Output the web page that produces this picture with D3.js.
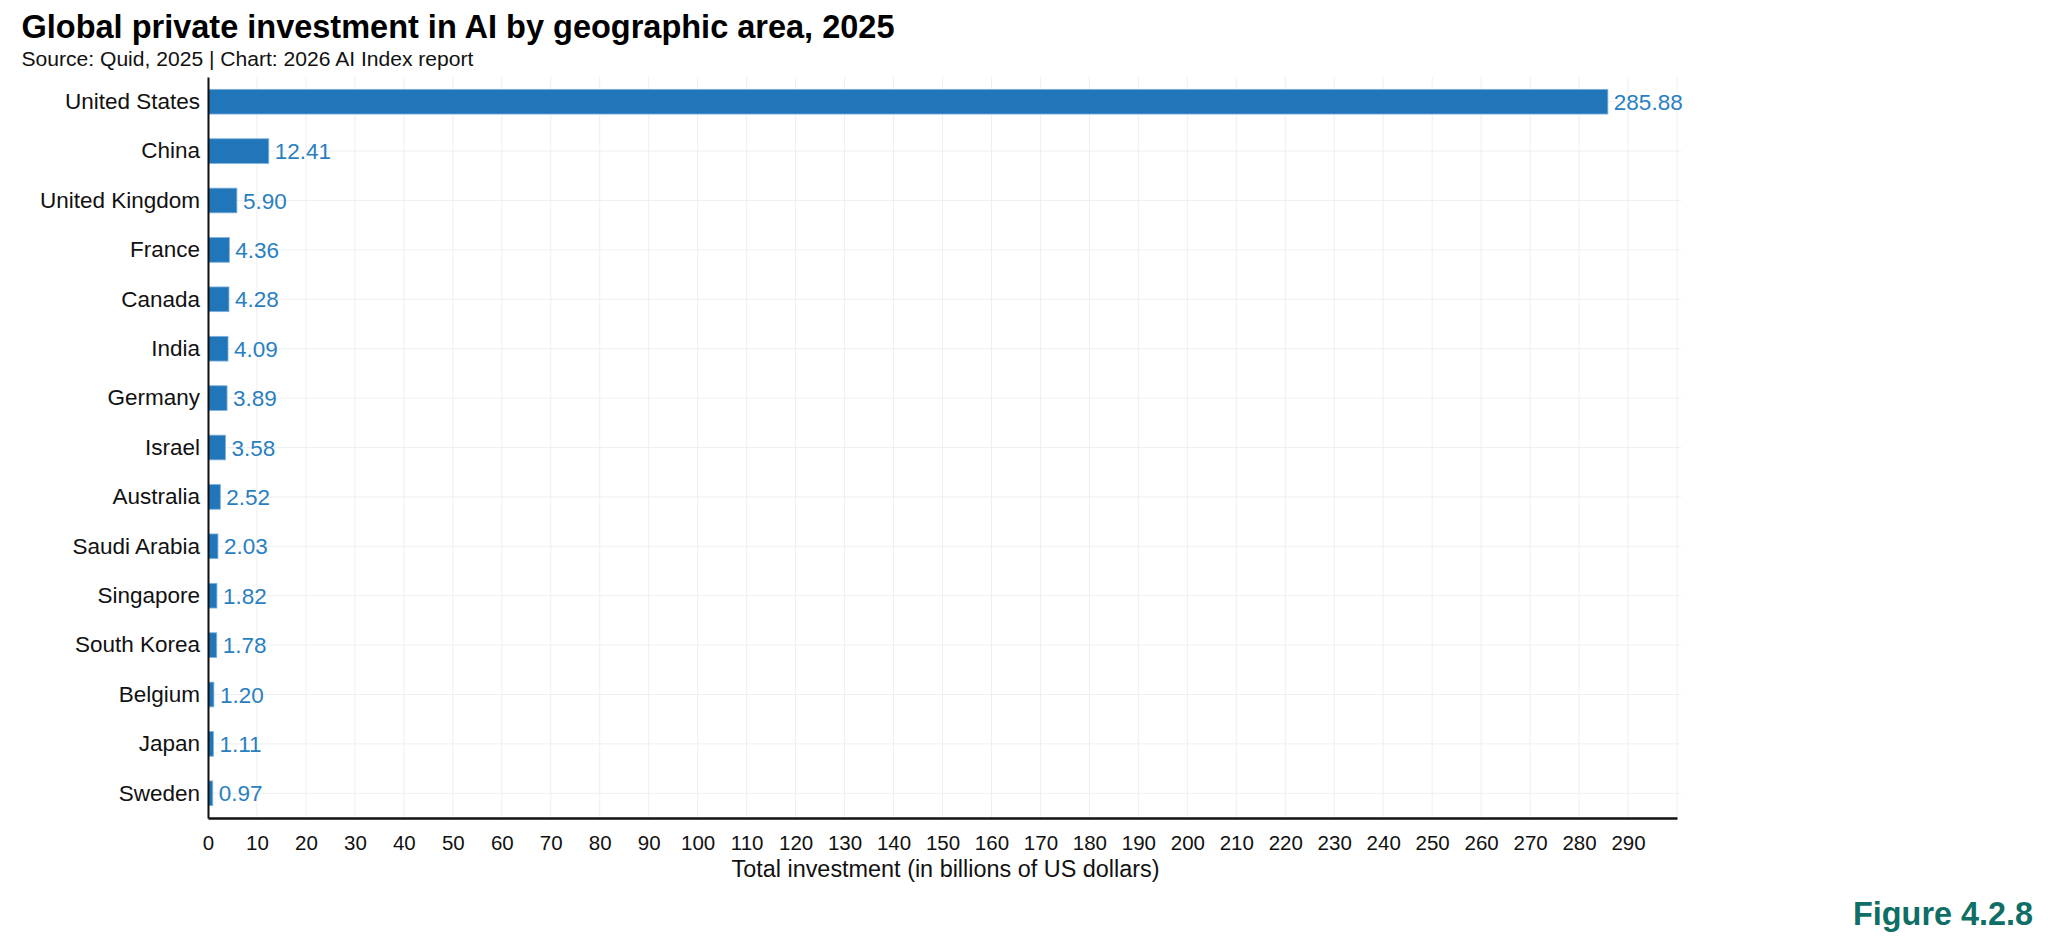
<!DOCTYPE html>
<html>
<head>
<meta charset="utf-8">
<script src="https://cdn.jsdelivr.net/npm/d3@7"></script>
<style>
  html, body { margin: 0; padding: 0; background: #ffffff; }
  svg { display: block; }
  text { font-family: "Liberation Sans", Arial, sans-serif; }
</style>
</head>
<body>
<svg id="chart" width="2048" height="945"></svg>
<script>
// ---- Data ----
const categories = ["United States", "China", "United Kingdom", "France", "Canada", "India",
  "Germany", "Israel", "Australia", "Saudi Arabia", "Singapore", "South Korea", "Belgium", "Japan", "Sweden"];
const values = [285.88, 12.41, 5.90, 4.36, 4.28, 4.09, 3.89, 3.58, 2.52, 2.03, 1.82, 1.78, 1.20, 1.11, 0.97];
const tickValues = [0,10,20,30,40,50,60,70,80,90,100,110,120,130,140,150,160,170,180,190,200,210,220,230,240,250,260,270,280,290];
const gridValues = [0,10,20,30,40,50,60,70,80,90,100,110,120,130,140,150,160,170,180,190,200,210,220,230,240,250,260,270,280,290,300];
const titleText = "Global private investment in AI by geographic area, 2025";
const subtitleText = "Source: Quid, 2025 | Chart: 2026 AI Index report";
const xAxisTitle = "Total investment (in billions of US dollars)";
const figureLabel = "Figure 4.2.8";

// ---- Layout ----
const svg = d3.select("#chart");
const plotLeft = 208, plotRight = 1677, plotTop = 77, plotBottom = 818;

const x = d3.scaleLinear().domain([0, 300]).range([plotLeft, plotRight]);
const y = d3.scaleBand().domain(categories).range([plotTop, plotBottom]).paddingInner(0.5).paddingOuter(0.25);

function fitWidth(sel, target) {
  const node = sel.node();
  const fs = parseFloat(sel.attr("font-size"));
  const w = node.getComputedTextLength();
  if (w > 0) sel.attr("font-size", (fs * target / w).toFixed(2));
}

// grid
const grid = svg.append("g");
grid.selectAll("line.v").data(gridValues).join("line")
  .attr("class", "v")
  .attr("x1", d => x(d)).attr("x2", d => x(d))
  .attr("y1", plotTop).attr("y2", plotBottom)
  .attr("stroke", "#efefef").attr("stroke-width", 1);
grid.selectAll("line.h").data(categories).join("line")
  .attr("class", "h")
  .attr("x1", plotLeft).attr("x2", plotRight + 4)
  .attr("y1", d => y(d) + y.bandwidth() / 2).attr("y2", d => y(d) + y.bandwidth() / 2)
  .attr("stroke", "#efefef").attr("stroke-width", 1);

// bars
svg.append("g").selectAll("rect").data(categories).join("rect")
  .attr("x", x(0) + 0.5)
  .attr("y", d => y(d))
  .attr("width", (d, i) => Math.max(0, x(values[i]) - x(0) - 0.5))
  .attr("height", y.bandwidth())
  .attr("fill", "#2176b9")
  .attr("stroke", "#7fb2de")
  .attr("stroke-width", 0.8);

// value labels
svg.append("g").selectAll("text").data(categories).join("text")
  .attr("x", (d, i) => x(values[i]) + 6)
  .attr("y", d => y(d) + y.bandwidth() / 2)
  .attr("dy", "0.36em")
  .attr("font-size", 22.5)
  .attr("fill", "#2a7fc0")
  .text((d, i) => values[i].toFixed(2));

// axes
const xAxis = svg.append("g")
  .attr("transform", `translate(0,${plotBottom})`)
  .call(d3.axisBottom(x).tickValues(tickValues).tickSize(0).tickPadding(17).tickFormat(d3.format("d")));
xAxis.select(".domain").attr("stroke", "#111").attr("stroke-width", 2.5);
xAxis.selectAll("text").attr("font-size", 20.5).attr("fill", "#111")
  .style("font-family", '"Liberation Sans", Arial, sans-serif');

const yAxis = svg.append("g")
  .attr("transform", `translate(${plotLeft},0)`)
  .call(d3.axisLeft(y).tickSize(0).tickPadding(8));
yAxis.select(".domain").attr("stroke", "#111").attr("stroke-width", 2);
yAxis.selectAll("text").attr("font-size", 22.5).attr("fill", "#111")
  .style("font-family", '"Liberation Sans", Arial, sans-serif');

// titles
const t = svg.append("text").attr("x", 21.5).attr("y", 37.5)
  .attr("font-size", 28).attr("font-weight", "bold").attr("fill", "#000").text(titleText);
fitWidth(t, 873);
const st = svg.append("text").attr("x", 21.5).attr("y", 65.5)
  .attr("font-size", 19).attr("fill", "#111").text(subtitleText);
fitWidth(st, 452);
const xt = svg.append("text").attr("x", 945.5).attr("y", 877)
  .attr("text-anchor", "middle").attr("font-size", 20).attr("fill", "#111").text(xAxisTitle);
fitWidth(xt, 428);
const fl = svg.append("text").attr("x", 2033).attr("y", 925)
  .attr("text-anchor", "end").attr("font-size", 29).attr("font-weight", "bold")
  .attr("fill", "#0f6e66").text(figureLabel);
fitWidth(fl, 180);
</script>
</body>
</html>
